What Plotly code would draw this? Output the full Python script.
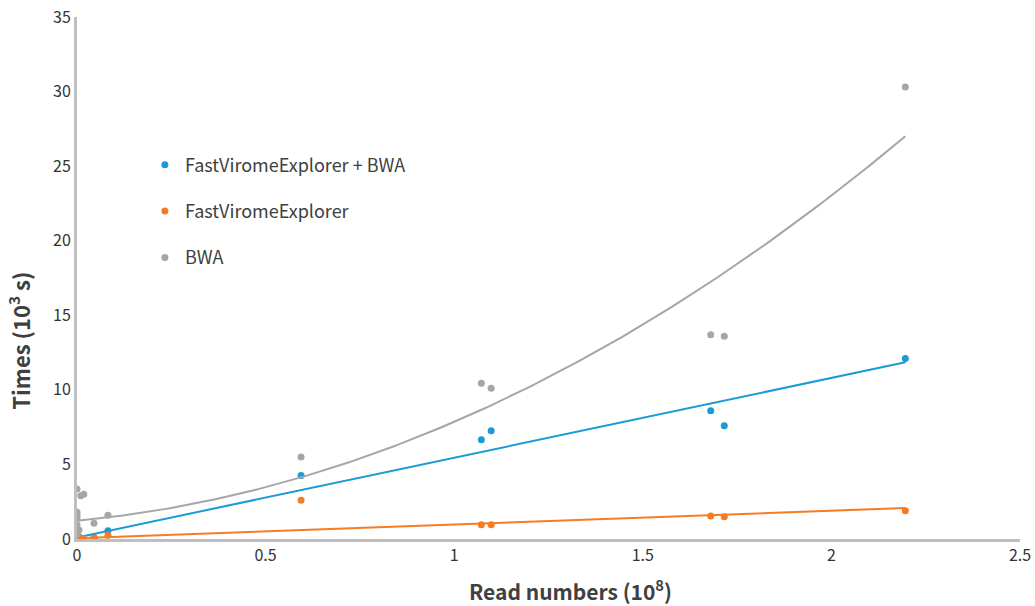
import numpy as np
import plotly.graph_objects as go

# Read numbers (10^8) and times (10^3 s)
fvb_x = [0.0, 0.005, 0.045, 0.082, 0.594, 1.072, 1.098, 1.680, 1.716, 2.196]
fvb_y = [0.1, 0.15, 0.1, 0.55, 4.25, 6.65, 7.25, 8.6, 7.6, 12.1]

fve_x = [0.0, 0.005, 0.015, 0.045, 0.082, 0.594, 1.072, 1.098, 1.680, 1.716, 2.196]
fve_y = [0.05, 0.05, 0.05, 0.05, 0.25, 2.6, 0.95, 0.95, 1.55, 1.5, 1.9]

bwa_x = [0.0, 0.01, 0.018, 0.0, 0.0, 0.0, 0.0, 0.005, 0.0, 0.045, 0.082, 0.594,
         1.072, 1.098, 1.680, 1.716, 2.196]
bwa_y = [3.35, 2.9, 3.0, 1.8, 1.6, 1.4, 0.95, 0.6, 0.3, 1.05, 1.6, 5.5,
         10.45, 10.1, 13.7, 13.6, 30.3]

# Trendline coefficients as shown in the picture (highest power first)
fvb_trend = [5.35, 0.1]            # linear
fve_trend = [0.925, 0.05]          # linear
bwa_trend = [4.275, 2.348, 1.23]   # 2nd-order polynomial

x_ticks = [0, 0.5, 1, 1.5, 2, 2.5]
x_tick_labels = ["0", "0.5", "1", "1.5", "2", "2.5"]
y_ticks = [0, 5, 10, 15, 20, 25, 30, 35]

BLUE = "#1c9ad6"
ORANGE = "#f57c22"
GRAY = "#a6a6a6"
FONT = "Noto Sans CJK SC, Noto Sans, Arial, sans-serif"

fig = go.Figure()

series = [
    ("FastViromeExplorer + BWA", fvb_x, fvb_y, BLUE, fvb_trend),
    ("FastViromeExplorer", fve_x, fve_y, ORANGE, fve_trend),
    ("BWA", bwa_x, bwa_y, GRAY, bwa_trend),
]

for i, (name, xs, ys, color, coef) in enumerate(series):
    tx = np.linspace(0, max(xs), 200)
    ty = np.polyval(coef, tx)
    fig.add_trace(go.Scatter(
        x=tx, y=ty, mode="lines", line=dict(color=color, width=2),
        showlegend=False, hoverinfo="skip", legendgroup=f"g{i}",
    ))
    fig.add_trace(go.Scatter(
        x=xs, y=ys, mode="markers", name=name,
        marker=dict(color=color, size=7),
        legendgroup=f"g{i}",
    ))

fig.update_layout(
    width=1035, height=606,
    margin=dict(l=77, r=15, t=17, b=67),
    plot_bgcolor="white", paper_bgcolor="white",
    font=dict(family=FONT, color="#333333"),
    legend=dict(
        x=0.072, y=0.752, xanchor="left", yanchor="top",
        font=dict(size=18, color="#404040", family=FONT),
        tracegroupgap=20, bgcolor="rgba(0,0,0,0)",
        itemwidth=30,
    ),
    xaxis=dict(
        range=[0, 2.5], tickvals=x_ticks, ticktext=x_tick_labels,
        showgrid=False, zeroline=False, showline=True,
        linecolor="#bfbfbf", linewidth=3, ticks="", automargin=False,
        tickfont=dict(size=16, color="#333333", family=FONT),
    ),
    yaxis=dict(
        range=[0, 35], tickvals=y_ticks,
        showgrid=False, zeroline=False, showline=True,
        linecolor="#bfbfbf", linewidth=3, ticks="", automargin=False,
        tickfont=dict(size=16, color="#333333", family=FONT),
    ),
    annotations=[
        dict(text="<b>Read numbers (10<sup>8</sup>)</b>",
             xref="paper", yref="paper", x=0.523, y=-0.098,
             xanchor="center", yanchor="middle", showarrow=False,
             font=dict(size=21, color="#404040", family=FONT)),
        dict(text="<b>Times (10<sup>3</sup> s)</b>",
             xref="paper", yref="paper", x=-0.062, y=0.379,
             xanchor="center", yanchor="middle", showarrow=False,
             textangle=-90,
             font=dict(size=22, color="#404040", family=FONT)),
    ],
)

fig.write_html("out.html", config={"displayModeBar": False},
               post_script='document.body.style.margin="0";')
